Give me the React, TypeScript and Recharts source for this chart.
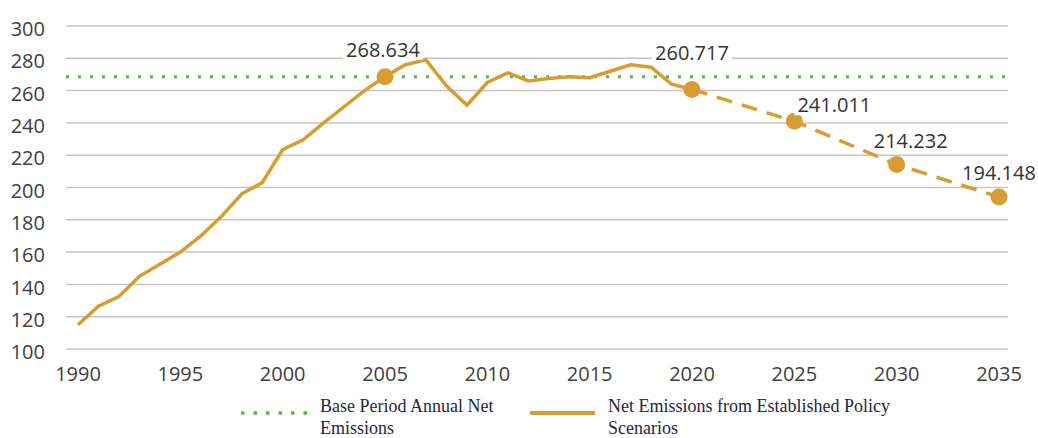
import React from 'react';
import { LineChart, Line, XAxis, YAxis, CartesianGrid, ReferenceLine } from 'recharts';

// historical net emissions
const HIST_YEARS = [
  1990, 1991, 1992, 1993, 1994, 1995, 1996, 1997, 1998, 1999,
  2000, 2001, 2002, 2003, 2004, 2005, 2006, 2007, 2008, 2009,
  2010, 2011, 2012, 2013, 2014, 2015, 2016, 2017, 2018, 2019, 2020,
];
const HIST_VALUES = [
  115, 126.5, 132.5, 145, 152.5, 160, 170, 182, 196, 203,
  223.5, 229.5, 240, 250, 260, 268.634, 276, 279, 263, 251,
  265, 271, 266, 267.5, 268.5, 268, 272, 276, 274.5, 264, 260.717,
];

// established policy scenario projection
const PROJ_YEARS = [2020, 2025, 2030, 2035];
const PROJ_VALUES = [260.717, 241.011, 214.232, 194.148];

const BASE_PERIOD = 268.634;

const X_TICKS = [1990, 1995, 2000, 2005, 2010, 2015, 2020, 2025, 2030, 2035];
const Y_TICKS = [100, 120, 140, 160, 180, 200, 220, 240, 260, 280, 300];

const HIST_MARKED = [2005];
const PROJ_MARKED = [2020, 2025, 2030, 2035];

// where each value label sits relative to its point
const LABEL_OFFSET: Record<number, [number, number]> = {
  2005: [-2, -27],
  2020: [0, -37],
  2025: [40, -16],
  2030: [14, -24],
  2035: [0, -24],
};

const GOLD = '#D79C32';
const GREEN = '#55B947';
const TEXT = '#404040';
const FONT = '"Open Sans", "Noto Sans", sans-serif';

const allYears = Array.from(new Set([...HIST_YEARS, ...PROJ_YEARS])).sort((a, b) => a - b);
const tableData = allYears.map(year => {
  const hi = HIST_YEARS.indexOf(year);
  const pi = PROJ_YEARS.indexOf(year);
  return {
    year,
    hist: hi >= 0 ? HIST_VALUES[hi] : null,
    proj: pi >= 0 ? PROJ_VALUES[pi] : null,
  };
});

const makeDot = (marked: number[]) => (props: any) => {
  const { cx, cy, payload, index } = props;
  if (!payload || !marked.includes(payload.year) || cx == null || cy == null) {
    return <g key={`d-${index}`} />;
  }
  return <circle key={`d-${index}`} cx={cx} cy={cy} r={8.5} fill={GOLD} />;
};

const makeLabel = (marked: number[]) => (props: any) => {
  const { x, y, value, index } = props;
  const row = tableData[index];
  if (!row || !marked.includes(row.year) || value == null) return null;
  const [dx, dy] = LABEL_OFFSET[row.year] || [0, -24];
  const text = Number(value).toFixed(3);
  const cx = x + dx;
  const cy = y + dy;
  return (
    <g key={`l-${index}`}>
      <rect x={cx - 40} y={cy - 10} width={80} height={20} fill="#fff" />
      <text
        x={cx}
        y={cy}
        dy="0.36em"
        textAnchor="middle"
        fontSize={20}
        fontFamily={FONT}
        fill="#333"
      >
        {text}
      </text>
    </g>
  );
};

const legendText: React.CSSProperties = {
  fontFamily: '"Liberation Serif", "Times New Roman", serif',
  fontSize: 18,
  lineHeight: '22px',
  color: '#262640',
};

const App: React.FC = () => {
  return (
    <div style={{ position: 'absolute', left: 0, top: 0, width: 1038, height: 438, background: '#fff' }}>
      <LineChart
        width={1038}
        height={438}
        data={tableData}
        margin={{ top: 26, right: 30, left: 6, bottom: 49 }}
      >
        <CartesianGrid vertical={false} stroke="#c6c6c6" strokeWidth={1.5} />
        <XAxis
          dataKey="year"
          type="number"
          domain={[1990, 2035]}
          ticks={X_TICKS}
          interval={0}
          padding={{ left: 12, right: 9 }}
          axisLine={false}
          tickLine={false}
          tickSize={0}
          tickMargin={18}
          height={40}
          tick={{ fill: TEXT, fontSize: 20, fontFamily: FONT }}
        />
        <YAxis
          domain={[100, 300]}
          ticks={Y_TICKS}
          interval={0}
          width={60}
          axisLine={false}
          tickLine={false}
          tickSize={0}
          tickMargin={21}
          tick={{ fill: TEXT, fontSize: 20, fontFamily: FONT, dy: 3 }}
        />
        <ReferenceLine
          y={BASE_PERIOD}
          stroke={GREEN}
          strokeWidth={3}
          strokeDasharray="3 9"
        />
        <Line
          dataKey="hist"
          type="linear"
          stroke={GOLD}
          strokeWidth={3.5}
          dot={makeDot(HIST_MARKED)}
          activeDot={false}
          label={makeLabel(HIST_MARKED)}
          connectNulls={false}
          isAnimationActive={false}
        />
        <Line
          dataKey="proj"
          type="linear"
          stroke={GOLD}
          strokeWidth={3.5}
          strokeDasharray="16 10"
          dot={makeDot(PROJ_MARKED)}
          activeDot={false}
          label={makeLabel(PROJ_MARKED)}
          connectNulls
          isAnimationActive={false}
        />
      </LineChart>

      {/* legend */}
      <div style={{ position: 'absolute', left: 240, top: 395, display: 'flex', alignItems: 'flex-start' }}>
        <svg width={70} height={22} style={{ marginRight: 10 }}>
          <line x1={1} y1={18} x2={70} y2={18} stroke={GREEN} strokeWidth={3.5} strokeDasharray="3.5 9" />
        </svg>
        <div style={{ ...legendText, width: 210 }}>
          <div>Base Period Annual Net</div>
          <div>Emissions</div>
        </div>
        <svg width={65} height={22} style={{ marginRight: 13 }}>
          <line x1={0} y1={18} x2={65} y2={18} stroke={GOLD} strokeWidth={4} />
        </svg>
        <div style={legendText}>
          <div>Net Emissions from Established Policy</div>
          <div>Scenarios</div>
        </div>
      </div>
    </div>
  );
};

export default App;
